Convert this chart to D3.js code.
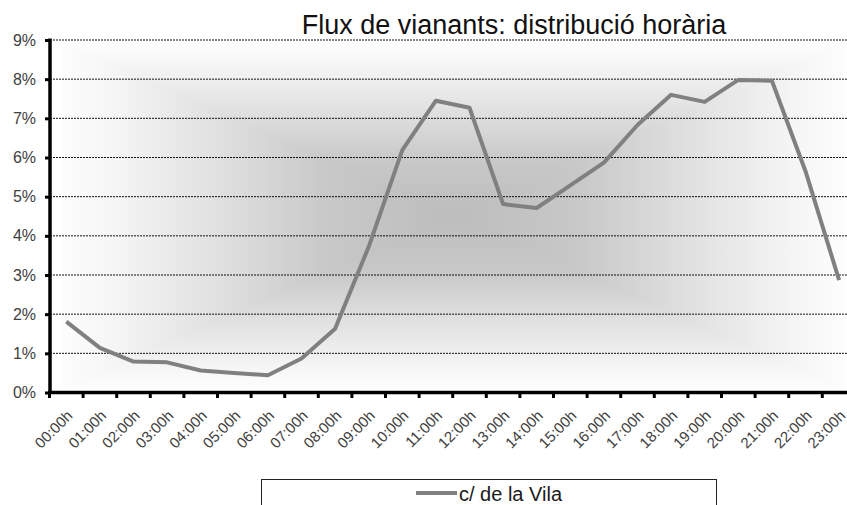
<!DOCTYPE html>
<html>
<head>
<meta charset="utf-8">
<script src="https://cdn.jsdelivr.net/npm/d3@7"></script>
<style>
  html, body { margin: 0; padding: 0; background: #fff; overflow: hidden; }
  svg { display: block; font-family: "Liberation Sans", Arial, sans-serif; }
</style>
</head>
<body>
<svg id="chart" width="847" height="505"></svg>
<script>
const title = "Flux de vianants: distribució horària";
const hours = ["00:00h","01:00h","02:00h","03:00h","04:00h","05:00h","06:00h","07:00h",
  "08:00h","09:00h","10:00h","11:00h","12:00h","13:00h","14:00h","15:00h",
  "16:00h","17:00h","18:00h","19:00h","20:00h","21:00h","22:00h","23:00h"];
const seriesName = "c/ de la Vila";
const values = [0.0181, 0.0114, 0.0079, 0.0077, 0.0056, 0.0050, 0.0044, 0.0087,
  0.0163, 0.0372, 0.0619, 0.0745, 0.0727, 0.0481, 0.0471, 0.0529,
  0.0587, 0.0683, 0.0760, 0.0742, 0.0798, 0.0796, 0.0565, 0.0287];
const yTicks = [0, 0.01, 0.02, 0.03, 0.04, 0.05, 0.06, 0.07, 0.08, 0.09];

const svg = d3.select("#chart");
const W = 847;

const x = d3.scaleBand().domain(hours).range([49.5, 49.5 + 24 * 33.6]).paddingInner(0).paddingOuter(0);
const y = d3.scaleLinear().domain([0, 0.09]).range([392.5, 40]);

// Background rectangular "from center" gradient
const defs = svg.append("defs");
const gx0 = 62, gx1 = 845, gy0 = 43, gy1 = 389;
const gcx = (gx0 + gx1) / 2, gcy = (gy0 + gy1) / 2;
const stops = [
  [0, "#fdfdfd"], [0.12, "#f6f6f6"], [0.4, "#e0e0e0"], [0.68, "#c8c8c8"], [1, "#bdbdbd"]
];
function grad(id, x1, y1, x2, y2) {
  const g = defs.append("linearGradient").attr("id", id)
    .attr("gradientUnits", "userSpaceOnUse")
    .attr("x1", x1).attr("y1", y1).attr("x2", x2).attr("y2", y2)
    .attr("spreadMethod", "reflect");
  stops.forEach(s => g.append("stop").attr("offset", s[0]).attr("stop-color", s[1]));
}
grad("gH", gx0, 0, gcx, 0);
grad("gV", 0, gy0, 0, gcy);
svg.append("rect").attr("x", gx0).attr("y", gy0).attr("width", gx1 - gx0).attr("height", gy1 - gy0)
  .attr("fill", "url(#gH)");
svg.append("path")
  .attr("d", `M${gx0},${gy0}L${gx1},${gy0}L${gcx},${gcy}Z M${gx0},${gy1}L${gx1},${gy1}L${gcx},${gcy}Z`)
  .attr("fill", "url(#gV)");

// Gridlines
svg.append("g").selectAll("line").data(yTicks.filter(d => d > 0)).join("line")
  .attr("x1", 50).attr("x2", W).attr("y1", d => y(d)).attr("y2", d => y(d))
  .attr("stroke", "#111").attr("stroke-width", 1).attr("stroke-dasharray", "2,1");

// Title
svg.append("text").attr("x", 514).attr("y", 34).attr("text-anchor", "middle")
  .attr("font-size", 27).attr("fill", "#111").text(title);

// Line
const line = d3.line().x((d, i) => x(hours[i]) + x.bandwidth() / 2).y(d => y(d));
svg.append("path").datum(values).attr("d", line)
  .attr("fill", "none").attr("stroke", "#808080").attr("stroke-width", 4)
  .attr("stroke-linejoin", "round");

// Y axis
const yAxis = d3.axisLeft(y).tickValues(yTicks).tickFormat(d3.format(".0%")).tickSize(5).tickPadding(9);
const yg = svg.append("g").attr("transform", "translate(50,0)").call(yAxis);
yg.select(".domain").remove();
yg.selectAll(".tick line").attr("stroke", "#000").attr("stroke-width", 3);
yg.selectAll(".tick text").attr("font-size", 16).attr("fill", "#404040")
  .attr("font-family", "Liberation Sans, Arial, sans-serif");
svg.append("line").attr("x1", 50).attr("x2", 50).attr("y1", 38.5).attr("y2", 394)
  .attr("stroke", "#000").attr("stroke-width", 3.5);

// X axis
const xg = svg.append("g");
xg.selectAll("line.tk").data(d3.range(24)).join("line").attr("class", "tk")
  .attr("x1", i => x(hours[i])).attr("x2", i => x(hours[i]))
  .attr("y1", 392).attr("y2", 398).attr("stroke", "#000").attr("stroke-width", 3);
svg.append("line").attr("x1", 48).attr("x2", W).attr("y1", 392.5).attr("y2", 392.5)
  .attr("stroke", "#000").attr("stroke-width", 3.5);
xg.selectAll("text").data(hours).join("text")
  .attr("transform", d => `translate(${x(d) + x.bandwidth() / 2 + 3.5},${413}) rotate(-45)`)
  .attr("text-anchor", "end").attr("dy", "0.35em")
  .attr("font-size", 15).attr("fill", "#404040").text(d => d);

// Legend
const lg = svg.append("g");
lg.append("rect").attr("x", 261.5).attr("y", 479.5).attr("width", 455).attr("height", 40)
  .attr("fill", "#fff").attr("stroke", "#222").attr("stroke-width", 1);
lg.append("line").attr("x1", 416).attr("x2", 457).attr("y1", 493).attr("y2", 493)
  .attr("stroke", "#808080").attr("stroke-width", 4);
lg.append("text").attr("x", 459).attr("y", 500.5).attr("font-size", 20).attr("fill", "#1a1a1a")
  .text(seriesName);
</script>
</body>
</html>
